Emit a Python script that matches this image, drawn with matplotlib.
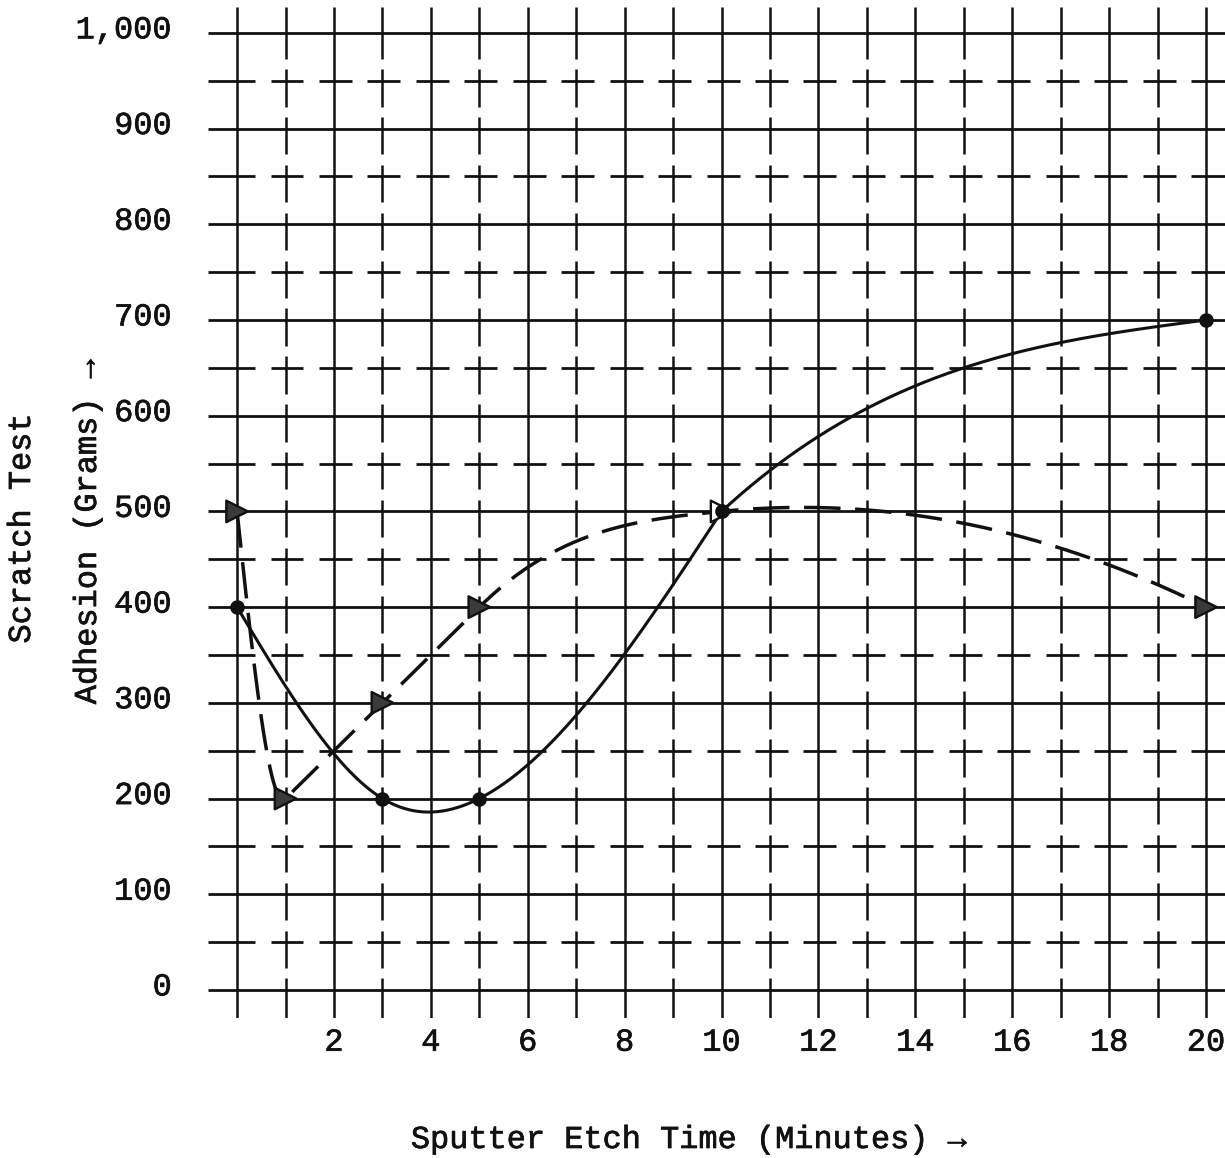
import numpy as np
import matplotlib
matplotlib.use("Agg")
import matplotlib.pyplot as plt
import matplotlib.transforms as mtransforms
import matplotlib.patheffects as pe

# ---------------- data ----------------
solid_x = [0, 3, 5, 10, 20]
solid_y = [400, 200, 200, 500, 700]
dashed_x = [0, 1, 3, 5, 10, 20]
dashed_y = [500, 200, 300, 400, 500, 400]
x_tick_vals = [2, 4, 6, 8, 10, 12, 14, 16, 18, 20]
x_tick_labels = ["2", "4", "6", "8", "10", "12", "14", "16", "18", "20"]
y_tick_vals = [0, 100, 200, 300, 400, 500, 600, 700, 800, 900, 1000]
y_tick_labels = ["0", "100", "200", "300", "400", "500", "600", "700", "800", "900", "1,000"]
x_label = "Sputter Etch Time (Minutes) \u2192"
y_label_1 = "Scratch Test"
y_label_2 = "Adhesion (Grams) \u2192"


# ---------------- smoothing helpers ----------------
def natural_spline(x, y, xs):
    x = np.asarray(x, float); y = np.asarray(y, float)
    n = len(x)
    h = np.diff(x)
    A = np.zeros((n, n)); b = np.zeros(n)
    A[0, 0] = 1; A[-1, -1] = 1
    for i in range(1, n - 1):
        A[i, i - 1] = h[i - 1]
        A[i, i] = 2 * (h[i - 1] + h[i])
        A[i, i + 1] = h[i]
        b[i] = 6 * ((y[i + 1] - y[i]) / h[i] - (y[i] - y[i - 1]) / h[i - 1])
    M = np.linalg.solve(A, b)
    out = np.empty_like(xs, dtype=float)
    for k, xv in enumerate(xs):
        i = min(max(np.searchsorted(x, xv) - 1, 0), n - 2)
        hi = h[i]
        a = x[i + 1] - xv; c = xv - x[i]
        out[k] = (M[i] * a ** 3 + M[i + 1] * c ** 3) / (6 * hi) \
            + (y[i] / hi - M[i] * hi / 6) * a + (y[i + 1] / hi - M[i + 1] * hi / 6) * c
    return out


def akima(x, y, xs):
    x = np.asarray(x, float); y = np.asarray(y, float)
    n = len(x)
    m = np.diff(y) / np.diff(x)
    mm = np.empty(n + 3)
    mm[2:n + 1] = m
    mm[1] = 2 * m[0] - m[1]
    mm[0] = 2 * mm[1] - m[0]
    mm[n + 1] = 2 * m[-1] - m[-2]
    mm[n + 2] = 2 * mm[n + 1] - m[-1]
    t = np.empty(n)
    for i in range(n):
        w1 = abs(mm[i + 3] - mm[i + 2]); w2 = abs(mm[i + 1] - mm[i])
        if w1 + w2 == 0:
            t[i] = 0.5 * (mm[i + 1] + mm[i + 2])
        else:
            t[i] = (w1 * mm[i + 1] + w2 * mm[i + 2]) / (w1 + w2)
    out = np.empty_like(xs, dtype=float)
    for k, xv in enumerate(xs):
        i = min(max(np.searchsorted(x, xv) - 1, 0), n - 2)
        hi = x[i + 1] - x[i]
        s = (xv - x[i]) / hi
        h00 = 2 * s ** 3 - 3 * s ** 2 + 1
        h10 = s ** 3 - 2 * s ** 2 + s
        h01 = -2 * s ** 3 + 3 * s ** 2
        h11 = s ** 3 - s ** 2
        out[k] = h00 * y[i] + h10 * hi * t[i] + h01 * y[i + 1] + h11 * hi * t[i + 1]
    return out


# ---------------- figure ----------------
plt.rcParams['font.family'] = ['Liberation Mono', 'DejaVu Sans Mono']
W, H = 1225, 1158
fig = plt.figure(figsize=(W / 100, H / 100), dpi=100)
ax_l, ax_r, ax_t, ax_b = 208, 1225, 7, 1018
ax = fig.add_axes([ax_l / W, 1 - ax_b / H, (ax_r - ax_l) / W, (ax_b - ax_t) / H])
xlim = (-0.6, 20.39)
ylim = (-29.3, 1027)
ax.set_xlim(*xlim)
ax.set_ylim(*ylim)
for s in ax.spines.values():
    s.set_visible(False)

ink = "#111111"
grid_lw = 2.0
thick = [pe.withStroke(linewidth=0.5, foreground=ink)]

# horizontal grid: solid at hundreds, dashed at fifties
ax.hlines(y_tick_vals, xlim[0], xlim[1], color=ink, lw=grid_lw, zorder=1)
grid_x = np.arange(0, 21)
seg_start = grid_x - 0.31
seg_end = grid_x + 0.37
seg_start[0] = xlim[0]
seg_end[-1] = xlim[1]
for yv in np.arange(50, 1000, 100):
    ax.hlines([yv] * len(grid_x), seg_start, seg_end, color=ink, lw=grid_lw, zorder=1)

# vertical grid: solid at even, dashed at odd
even_x = grid_x[grid_x % 2 == 0]
odd_x = grid_x[grid_x % 2 == 1]
ax.vlines(even_x, ylim[0], ylim[1], color=ink, lw=grid_lw * 0.9, zorder=1)
levels = np.arange(0, 1001, 50)
v_start = levels - 27.0
v_end = levels + 12.0
v_start[0] = ylim[0]
v_end[-1] = ylim[1]
for xv in odd_x:
    ax.vlines([xv] * len(levels), v_start, v_end, color=ink, lw=grid_lw * 0.9, zorder=1)

# curves
xs_a = np.linspace(solid_x[0], solid_x[3], 300)
xs_b = np.linspace(solid_x[3], solid_x[4], 300)
ax.plot(xs_a, natural_spline(solid_x[:4], solid_y[:4], xs_a), color=ink, lw=2.2, zorder=3,
        solid_capstyle='round')
ax.plot(xs_b, natural_spline(solid_x[2:], solid_y[2:], xs_b), color=ink, lw=2.2, zorder=3,
        solid_capstyle='round')

xs_d = np.linspace(dashed_x[0], dashed_x[-1], 1200)
ax.plot(xs_d, akima(dashed_x, dashed_y, xs_d), color=ink, lw=2.5, zorder=3,
        linestyle=(0, (10.5, 4.2)))

# markers
tri_faces = ["#3a3a3a", "#3a3a3a", "#3a3a3a", "#3a3a3a", "white", "#3a3a3a"]
ax.scatter(dashed_x, dashed_y, marker='>', s=240, facecolors=tri_faces,
           edgecolors=ink, linewidths=1.7, zorder=4, clip_on=False)
ax.plot(solid_x, solid_y, linestyle='none', marker='o', markersize=9.5,
        color=ink, zorder=5, clip_on=False)

# ticks
ax.set_xticks(x_tick_vals)
ax.set_xticklabels(x_tick_labels, fontsize=23)
ax.set_yticks(y_tick_vals)
ax.set_yticklabels(y_tick_labels, fontsize=23)
ax.tick_params(axis='both', length=0, colors=ink)
ax.tick_params(axis='x', pad=7)
ax.tick_params(axis='y', pad=26)
up = mtransforms.ScaledTranslation(0, 6 / 100, fig.dpi_scale_trans)
for lab in ax.get_yticklabels():
    lab.set_transform(lab.get_transform() + up)
    lab.set_path_effects(thick)
for lab in ax.get_xticklabels():
    lab.set_path_effects(thick)

# axis titles
fig.text(690 / W, 1 - 1140 / H, x_label, fontsize=23, ha='center', va='center', color=ink,
         path_effects=thick)
fig.text(22 / W, 1 - 528 / H, y_label_1, fontsize=23, ha='center', va='center',
         rotation=90, color=ink, path_effects=thick)
fig.text(88 / W, 1 - 531 / H, y_label_2, fontsize=23, ha='center', va='center',
         rotation=90, color=ink, path_effects=thick)

fig.savefig("out.png", dpi=100, facecolor="white")
